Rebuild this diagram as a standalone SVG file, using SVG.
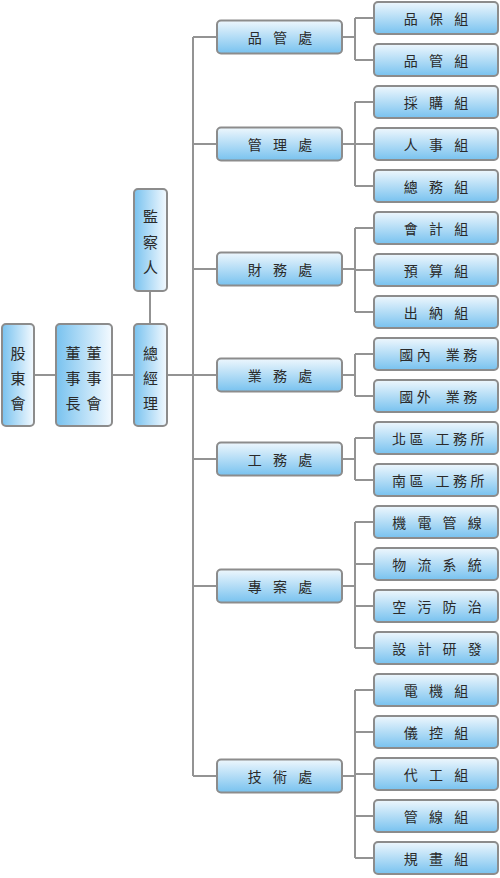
<svg xmlns="http://www.w3.org/2000/svg" width="500" height="878" viewBox="0 0 500 878">
<defs>
<linearGradient id="gv" x1="0" y1="0" x2="0" y2="1">
<stop offset="0" stop-color="#eef7fd"/>
<stop offset="1" stop-color="#78c2ef"/>
</linearGradient>
<linearGradient id="gh" x1="0" y1="0" x2="1" y2="0">
<stop offset="0" stop-color="#78c2ef"/>
<stop offset="1" stop-color="#f4faff"/>
</linearGradient>
</defs>
<style>
.bh{fill:url(#gh);stroke:#8c8c8c;stroke-width:2}
.bv{fill:url(#gv);stroke:#8c8c8c;stroke-width:2}
.c{fill:none;stroke:#939393;stroke-width:2}
text{font-family:"Noto Sans CJK TC","Noto Sans CJK SC",sans-serif;fill:#2a2a2a;dominant-baseline:central}
.t{font-size:14px;text-anchor:middle;letter-spacing:4px}
.s{font-size:14px;text-anchor:middle;letter-spacing:3.5px}
.v{font-size:15px;text-anchor:middle}
</style>
<g id="connectors" class="c">
<path d="M34 375H56M112 375H134M150 291V324M167 375H193M193 37V776"/>
<path d="M193 37H217M193 144H217M193 269H217M193 375H217M193 459H217M193 586H217M193 776H217"/>
<path d="M342 37H355M355 18V60M355 18H374M355 60H374"/>
<path d="M342 144H355M355 102V186M355 102H374M355 144H374M355 186H374"/>
<path d="M342 269H355M355 228V312M355 228H374M355 270H374M355 312H374"/>
<path d="M342 375H355M355 354V396M355 354H374M355 396H374"/>
<path d="M342 459H355M355 438V480M355 438H374M355 480H374"/>
<path d="M342 586H355M355 522V648M355 522H374M355 564H374M355 606H374M355 648H374"/>
<path d="M342 776H355M355 690V858M355 690H374M355 732H374M355 774H374M355 816H374M355 858H374"/>
</g>
<g id="n-gudong"><rect class="bh" x="2" y="324" width="32" height="102" rx="4"/>
<text class="v"><tspan x="18" y="352">股</tspan><tspan x="18" y="377">東</tspan><tspan x="18" y="402">會</tspan></text></g>
<g id="n-dongshi"><rect class="bh" x="56" y="324" width="56" height="102" rx="4"/>
<text class="v"><tspan x="94" y="352">董</tspan><tspan x="94" y="377">事</tspan><tspan x="94" y="402">會</tspan></text>
<text class="v"><tspan x="73" y="352">董</tspan><tspan x="73" y="377">事</tspan><tspan x="73" y="402">長</tspan></text></g>
<g id="n-jiancha"><rect class="bh" x="134" y="189" width="33" height="102" rx="4"/>
<text class="v"><tspan x="150.5" y="215">監</tspan><tspan x="150.5" y="241">察</tspan><tspan x="150.5" y="266">人</tspan></text></g>
<g id="n-zongjingli"><rect class="bh" x="134" y="324" width="33" height="102" rx="4"/>
<text class="v"><tspan x="150.5" y="352">總</tspan><tspan x="150.5" y="377">經</tspan><tspan x="150.5" y="402">理</tspan></text></g>

<g id="d1"><rect class="bv" x="217" y="20.5" width="125" height="33" rx="4"/><text class="t" x="282" y="37" xml:space="preserve">品 管 處</text></g>
<g id="d2"><rect class="bv" x="217" y="127.5" width="125" height="33" rx="4"/><text class="t" x="282" y="144" xml:space="preserve">管 理 處</text></g>
<g id="d3"><rect class="bv" x="217" y="252.5" width="125" height="33" rx="4"/><text class="t" x="282" y="269" xml:space="preserve">財 務 處</text></g>
<g id="d4"><rect class="bv" x="217" y="358.5" width="125" height="33" rx="4"/><text class="t" x="282" y="375" xml:space="preserve">業 務 處</text></g>
<g id="d5"><rect class="bv" x="217" y="442.5" width="125" height="33" rx="4"/><text class="t" x="282" y="459" xml:space="preserve">工 務 處</text></g>
<g id="d6"><rect class="bv" x="217" y="569.5" width="125" height="33" rx="4"/><text class="t" x="282" y="586" xml:space="preserve">專 案 處</text></g>
<g id="d7"><rect class="bv" x="217" y="759.5" width="125" height="33" rx="4"/><text class="t" x="282" y="776" xml:space="preserve">技 術 處</text></g>

<g id="s1"><rect class="bv" x="374" y="2" width="124" height="32" rx="4"/><text class="t" x="438" y="18" xml:space="preserve">品 保 組</text></g>
<g id="s2"><rect class="bv" x="374" y="44" width="124" height="32" rx="4"/><text class="t" x="438" y="60" xml:space="preserve">品 管 組</text></g>
<g id="s3"><rect class="bv" x="374" y="86" width="124" height="32" rx="4"/><text class="t" x="438" y="102" xml:space="preserve">採 購 組</text></g>
<g id="s4"><rect class="bv" x="374" y="128" width="124" height="32" rx="4"/><text class="t" x="438" y="144" xml:space="preserve">人 事 組</text></g>
<g id="s5"><rect class="bv" x="374" y="170" width="124" height="32" rx="4"/><text class="t" x="438" y="186" xml:space="preserve">總 務 組</text></g>
<g id="s6"><rect class="bv" x="374" y="212" width="124" height="32" rx="4"/><text class="t" x="438" y="228" xml:space="preserve">會 計 組</text></g>
<g id="s7"><rect class="bv" x="374" y="254" width="124" height="32" rx="4"/><text class="t" x="438" y="270" xml:space="preserve">預 算 組</text></g>
<g id="s8"><rect class="bv" x="374" y="296" width="124" height="32" rx="4"/><text class="t" x="438" y="312" xml:space="preserve">出 納 組</text></g>
<g id="s9"><rect class="bv" x="374" y="338" width="124" height="32" rx="4"/><text class="s" x="440" y="354">國內 <tspan dx="5">業務</tspan></text></g>
<g id="s10"><rect class="bv" x="374" y="380" width="124" height="32" rx="4"/><text class="s" x="440" y="396">國外 <tspan dx="5">業務</tspan></text></g>
<g id="s11"><rect class="bv" x="374" y="422" width="124" height="32" rx="4"/><text class="s" x="440" y="438">北區 <tspan dx="2">工務所</tspan></text></g>
<g id="s12"><rect class="bv" x="374" y="464" width="124" height="32" rx="4"/><text class="s" x="440" y="480">南區 <tspan dx="2">工務所</tspan></text></g>
<g id="s13"><rect class="bv" x="374" y="506" width="124" height="32" rx="4"/><text class="t" x="439" y="522" xml:space="preserve">機 電 管 線</text></g>
<g id="s14"><rect class="bv" x="374" y="548" width="124" height="32" rx="4"/><text class="t" x="439" y="564" xml:space="preserve">物 流 系 統</text></g>
<g id="s15"><rect class="bv" x="374" y="590" width="124" height="32" rx="4"/><text class="t" x="439" y="606" xml:space="preserve">空 污 防 治</text></g>
<g id="s16"><rect class="bv" x="374" y="632" width="124" height="32" rx="4"/><text class="t" x="439" y="648" xml:space="preserve">設 計 研 發</text></g>
<g id="s17"><rect class="bv" x="374" y="674" width="124" height="32" rx="4"/><text class="t" x="438" y="690" xml:space="preserve">電 機 組</text></g>
<g id="s18"><rect class="bv" x="374" y="716" width="124" height="32" rx="4"/><text class="t" x="438" y="732" xml:space="preserve">儀 控 組</text></g>
<g id="s19"><rect class="bv" x="374" y="758" width="124" height="32" rx="4"/><text class="t" x="438" y="774" xml:space="preserve">代 工 組</text></g>
<g id="s20"><rect class="bv" x="374" y="800" width="124" height="32" rx="4"/><text class="t" x="438" y="816" xml:space="preserve">管 線 組</text></g>
<g id="s21"><rect class="bv" x="374" y="842" width="124" height="32" rx="4"/><text class="t" x="438" y="858" xml:space="preserve">規 畫 組</text></g>
</svg>
